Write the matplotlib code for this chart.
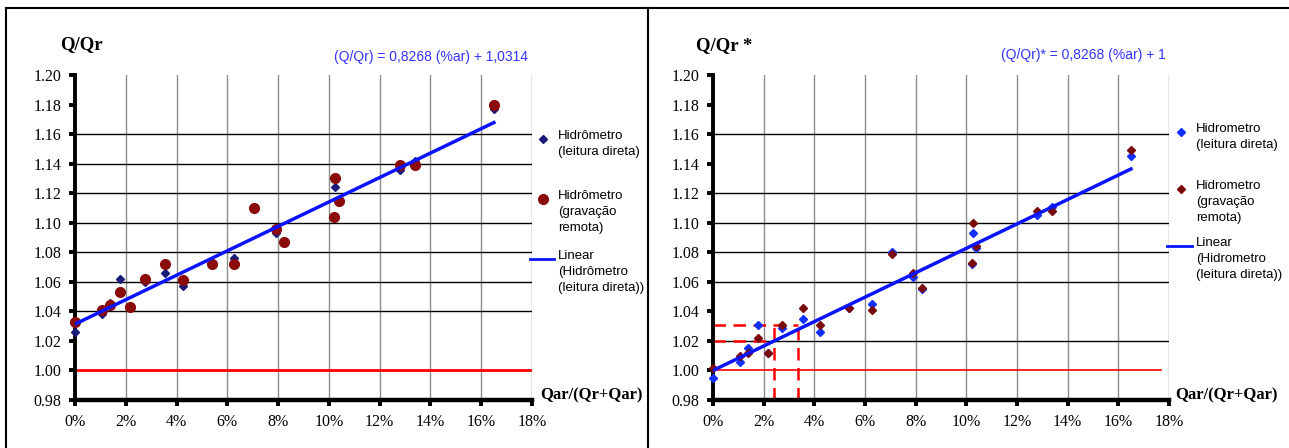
from matplotlib import pyplot as plt
from matplotlib.lines import Line2D
from matplotlib.ticker import PercentFormatter

# air fraction Qar/(Qr+Qar), in %
air_pct = [0, 1.06, 1.39, 1.79, 2.17, 2.74, 3.56, 4.24, 5.38, 6.28,
           7.05, 7.91, 8.25, 10.22, 10.26, 10.4, 12.8, 13.38, 16.5]

# left chart: Q/Qr
left_direta = [1.026, 1.038, 1.046, 1.062, 1.043, 1.060, 1.066, 1.057, 1.073, 1.076,
               1.111, 1.093, 1.087, 1.104, 1.124, 1.115, 1.136, 1.142, 1.177]
left_remota = [1.033, 1.041, 1.044, 1.053, 1.043, 1.062, 1.072, 1.061, 1.072, 1.072,
               1.110, 1.096, 1.087, 1.104, 1.130, 1.115, 1.139, 1.139, 1.180]

# right chart: Q/Qr *
right_direta = [0.995, 1.006, 1.0155, 1.031, 1.012, 1.029, 1.035, 1.026, 1.042, 1.045,
                1.080, 1.063, 1.055, 1.072, 1.093, 1.083, 1.105, 1.111, 1.145]
right_remota = [1.002, 1.010, 1.012, 1.022, 1.012, 1.031, 1.042, 1.031, 1.042, 1.041,
                1.079, 1.066, 1.056, 1.073, 1.100, 1.084, 1.108, 1.108, 1.149]

slope = 0.8268
left_intercept = 1.0314
right_intercept = 1.0
fit_range = [0.0, 0.165]

y_ticks = [0.98, 1.00, 1.02, 1.04, 1.06, 1.08, 1.10, 1.12, 1.14, 1.16, 1.18, 1.20]
x_ticks = [0.00, 0.02, 0.04, 0.06, 0.08, 0.10, 0.12, 0.14, 0.16, 0.18]
left_hgrid = [1.04, 1.06, 1.08, 1.10, 1.12, 1.14, 1.16]
right_hgrid = [1.02, 1.06, 1.08, 1.10, 1.12, 1.16]

# reading guides on right chart: (x, y)
guides = [(0.0242, 1.020), (0.0336, 1.031)]

serif = 'Liberation Serif'
sans = 'Liberation Sans'


def setup_axes(ax, hgrid):
    ax.set_xlim(0, 0.18)
    ax.set_ylim(0.98, 1.20)
    for v in x_ticks[1:]:
        ax.axvline(v, color='#8c8c8c', lw=1.0, zorder=0)
    for v in hgrid:
        ax.axhline(v, color='black', lw=1.0, zorder=0)
    for side in ['top', 'right']:
        ax.spines[side].set_visible(False)
    ax.spines['left'].set_linewidth(2.8)
    ax.spines['bottom'].set_linewidth(3.2)
    ax.set_xticks(x_ticks)
    ax.set_yticks(y_ticks)
    ax.xaxis.set_major_formatter(PercentFormatter(1.0, decimals=0))
    ax.set_yticklabels([f'{v:.2f}' for v in y_ticks])
    ax.tick_params(axis='both', width=2.8, length=4, labelsize=11.5, pad=6)
    for lbl in ax.get_xticklabels() + ax.get_yticklabels():
        lbl.set_fontfamily(serif)


def legend_entries(fig, x, ys, labels, handles):
    for y, label, h in zip(ys, labels, handles):
        kind, color = h
        if kind == 'line':
            fig.add_artist(Line2D([x - 0.0105, x + 0.0085], [y, y], color=color, lw=2,
                                  transform=fig.transFigure))
        else:
            fig.add_artist(Line2D([x], [y], marker=kind, color=color,
                                  markersize=4.5 if kind == 'D' else 7, linestyle='none',
                                  transform=fig.transFigure))
        fig.text(x + 0.0115, y + 0.020, label, fontsize=9.5, family=sans, va='top',
                 linespacing=1.45)


fig = plt.figure(figsize=(12.89, 4.48), dpi=100)

# ---- left chart ----
ax1 = fig.add_axes([0.0582, 0.1071, 0.3545, 0.7254])
setup_axes(ax1, left_hgrid)
ax1.axhline(1.0, color='#ff0000', lw=2.0, zorder=1)
x_frac = [p / 100 for p in air_pct]
ax1.plot(x_frac, left_direta, 'D', color='#1a1a7a', ms=4.5, zorder=3, clip_on=False)
ax1.plot(x_frac, left_remota, 'o', color='#8b0a0a', ms=7, zorder=4, clip_on=False)
ax1.plot(fit_range, [left_intercept + slope * v for v in fit_range], color='#0a14ff', lw=2.5, zorder=5)
fig.text(0.047, 0.90, 'Q/Qr', family=serif, weight='bold', fontsize=13.5, va='center')
fig.text(0.419, 0.118, 'Qar/(Qr+Qar)', family=serif, weight='bold', fontsize=12, va='center')
fig.text(0.410, 0.872, '(Q/Qr) = 0,8268 (%ar) + 1,0314', color='#3333ff', family=sans,
         fontsize=10, ha='right', va='center')
legend_entries(fig, 0.4215, [0.690, 0.556, 0.422],
               ['Hidrômetro\n(leitura direta)', 'Hidrômetro\n(gravação\nremota)',
                'Linear\n(Hidrômetro\n(leitura direta))'],
               [('D', '#1a1a7a'), ('o', '#8b0a0a'), ('line', '#0a14ff')])

# ---- right chart ----
ax2 = fig.add_axes([0.5531, 0.1071, 0.3538, 0.7254])
setup_axes(ax2, right_hgrid)
ax2.plot([0, 0.177], [1.0, 1.0], color='#ff0000', lw=1.2, zorder=1)
for gx, gy in guides:
    ax2.plot([0, gx], [gy, gy], color='#ff0000', lw=1.8, ls=(0, (5, 3)), zorder=2)
    ax2.plot([gx, gx], [0.98, 1.031], color='#ff0000', lw=1.8, ls=(0, (5, 3)), zorder=2)
ax2.plot(x_frac, right_direta, 'D', color='#1030ff', ms=4.5, zorder=3, clip_on=False)
ax2.plot(x_frac, right_remota, 'D', color='#7a0a0a', ms=4.5, zorder=4, clip_on=False)
ax2.plot(fit_range, [right_intercept + slope * v for v in fit_range], color='#0a14ff', lw=2.5, zorder=5)
fig.text(0.540, 0.898, 'Q/Qr *', family=serif, weight='bold', fontsize=13.5, va='center')
fig.text(0.912, 0.118, 'Qar/(Qr+Qar)', family=serif, weight='bold', fontsize=12, va='center')
fig.text(0.904, 0.877, "(Q/Qr)* = 0,8268 (%ar) + 1", color='#3333ff', family=sans,
         fontsize=10, ha='right', va='center')
legend_entries(fig, 0.9162, [0.705, 0.578, 0.451],
               ['Hidrometro\n(leitura direta)', 'Hidrometro\n(gravação\nremota)',
                'Linear\n(Hidrometro\n(leitura direta))'],
               [('D', '#1030ff'), ('D', '#7a0a0a'), ('line', '#0a14ff')])

# panel frames
fig.add_artist(Line2D([0.0047, 1.0], [0.982, 0.982], color='black', lw=1.5, transform=fig.transFigure))
fig.add_artist(Line2D([0.0047, 0.0047], [0.0, 0.982], color='black', lw=1.5, transform=fig.transFigure))
fig.add_artist(Line2D([0.5027, 0.5027], [0.0, 0.982], color='black', lw=1.5, transform=fig.transFigure))

plt.savefig('out.png', dpi=100)
